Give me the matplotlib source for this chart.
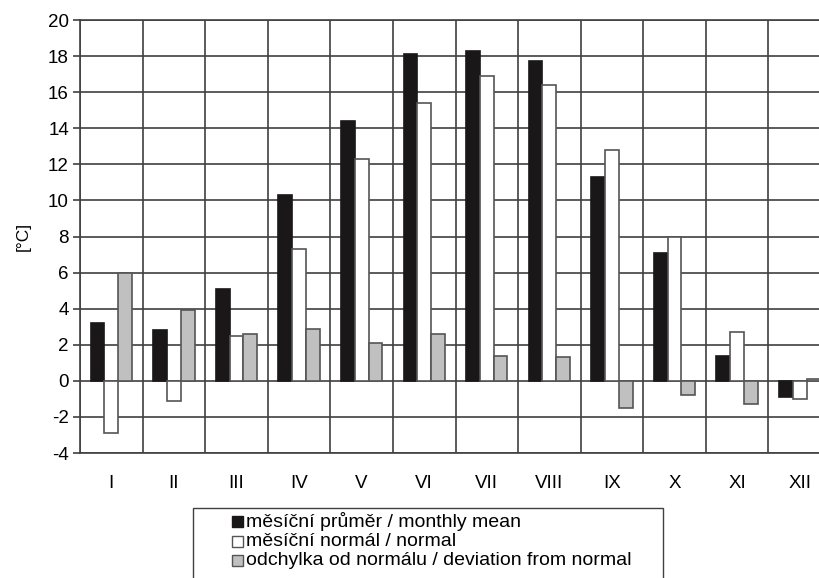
import matplotlib
matplotlib.use('Agg')
import numpy as np
import matplotlib.pyplot as plt
from matplotlib.patches import Rectangle

plt.rcParams['font.family'] = ['Liberation Sans', 'DejaVu Sans']
plt.rcParams['axes.unicode_minus'] = False

months = ['I', 'II', 'III', 'IV', 'V', 'VI', 'VII', 'VIII', 'IX', 'X', 'XI', 'XII']
mean = [3.2, 2.8, 5.1, 10.3, 14.4, 18.1, 18.3, 17.7, 11.3, 7.1, 1.4, -0.9]
normal = [-2.9, -1.1, 2.5, 7.3, 12.3, 15.4, 16.9, 16.4, 12.8, 8.0, 2.7, -1.0]
deviation = [6.0, 3.9, 2.6, 2.9, 2.1, 2.6, 1.4, 1.3, -1.5, -0.8, -1.3, 0.1]

labels = ['měsíční průměr / monthly mean',
          'měsíční normál / normal',
          'odchylka od normálu / deviation from normal']
colors = ['#1a1718', 'white', '#c0c0c0']
edges = ['#1a1718', '#555555', '#555555']

fig = plt.figure(figsize=(8.19, 5.78), dpi=100)
ax = fig.add_axes([80/819, 125/578, 751/819, 433/578])

x = np.arange(len(months))
w = 0.22
for i, vals in enumerate([mean, normal, deviation]):
    ax.bar(x + (i - 1)*w, vals, w, color=colors[i], edgecolor=edges[i],
           linewidth=1.2, zorder=3)

ax.set_xlim(-0.5, 11.5)
ax.set_ylim(-4, 20)
ax.set_yticks(np.arange(-4, 21, 2))
ax.set_xticks(np.arange(-0.5, 12, 1))
ax.set_xticklabels([])
ax.set_xticks(x, minor=True)
ax.set_xticklabels(months, minor=True)
ax.tick_params(axis='x', which='both', length=0)
ax.tick_params(axis='x', which='minor', pad=16, labelsize=13.5)
ax.tick_params(axis='y', length=5, width=1.2, color='#404040', labelsize=13.5, pad=3)
ax.grid(True, which='major', color='#404040', linewidth=1.2, zorder=0)
for s in ax.spines.values():
    s.set_color('#404040')
    s.set_linewidth(1.2)
ax.set_ylabel('[°C]', fontsize=12.5, labelpad=12)

# legend box, cut off by the bottom edge as in the original
fig.patches.append(Rectangle((193/819, -0.05), 470/819, 0.05 + 70/578,
                             transform=fig.transFigure, facecolor='none',
                             edgecolor='#404040', linewidth=1.0))
ys = [521.5, 541, 560.5]
for i in range(3):
    yc = 1 - ys[i]/578
    fig.patches.append(Rectangle((232/819, yc - 5.5/578), 11/819, 11/578,
                                 transform=fig.transFigure, facecolor=colors[i],
                                 edgecolor=edges[i], linewidth=1.0))
    fig.text(246/819, yc, labels[i], fontsize=14, va='center', ha='left')

fig.savefig('out.png', dpi=100)
